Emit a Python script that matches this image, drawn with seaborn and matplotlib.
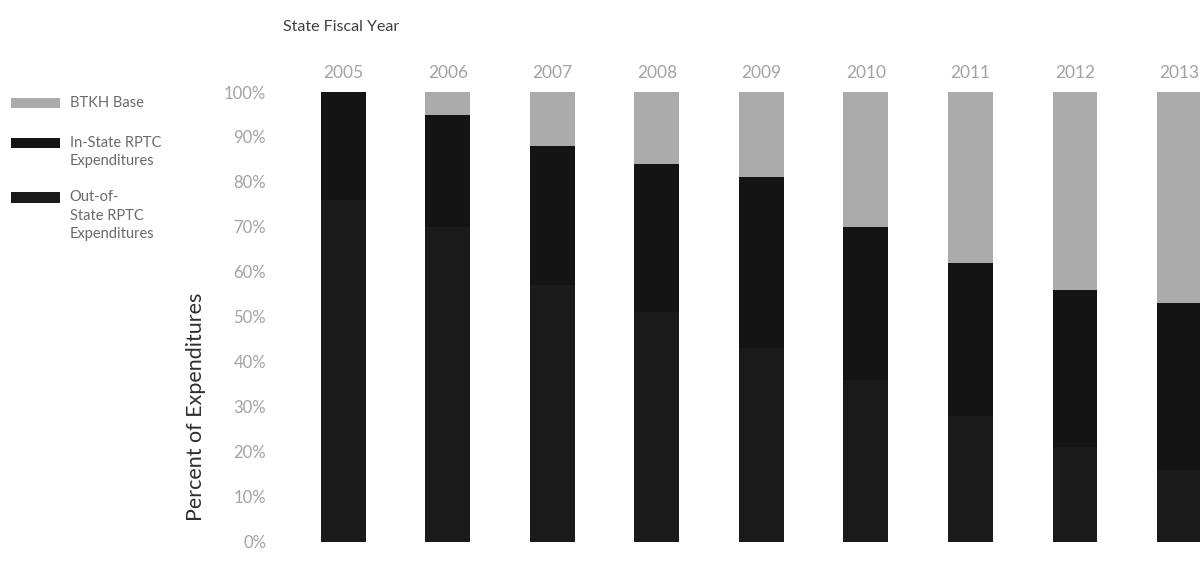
import matplotlib
matplotlib.use("Agg")
import matplotlib.pyplot as plt
import seaborn as sns
import pandas as pd
from matplotlib.patches import Rectangle

# Share of expenditures by state fiscal year (percent)
years = ["2005", "2006", "2007", "2008", "2009", "2010", "2011", "2012", "2013"]
btkh_base = [0, 5, 12, 16, 19, 30, 38, 44, 47]
in_state_rptc = [24, 25, 31, 33, 38, 34, 34, 35, 37]
out_of_state_rptc = [76, 70, 57, 51, 43, 36, 28, 21, 16]
y_ticks = [0, 10, 20, 30, 40, 50, 60, 70, 80, 90, 100]

series_names = ["BTKH Base", "In-State RPTC\nExpenditures", "Out-of-\nState RPTC\nExpenditures"]
colors = ["#ababab", "#141414", "#1a1a1a"]

sns.set_theme(style="white")
plt.rcParams["font.family"] = ["Lato", "DejaVu Sans"]

df = pd.DataFrame({
    "year": years,
    "btkh": btkh_base,
    "in_state": in_state_rptc,
    "out_state": out_of_state_rptc,
})
# cumulative tops for a stacked layout (bottom: out-of-state, then in-state, then BTKH)
df["top_out"] = df["out_state"]
df["top_in"] = df["out_state"] + df["in_state"]
df["top_all"] = df["top_in"] + df["btkh"]

fig = plt.figure(figsize=(12, 5.61), dpi=100)
ax = fig.add_axes([0.2425, 0.034, 0.784, 0.802])

for col, color in [("top_all", colors[0]), ("top_in", colors[1]), ("top_out", colors[2])]:
    sns.barplot(data=df, x="year", y=col, color=color, width=0.43,
                saturation=1, ax=ax, linewidth=0, errorbar=None)

ax.set_xlim(-0.5, 8.5)
ax.set_ylim(0, 100)
ax.set_yticks(y_ticks)
ax.set_yticklabels([f"{t}%" for t in y_ticks])
ax.xaxis.tick_top()
ax.tick_params(axis="both", length=0, colors="#a3a3a3")
ax.tick_params(axis="x", pad=8, labelsize=12.5)
ax.tick_params(axis="y", pad=18, labelsize=12)
ax.set_xlabel("")
ax.set_ylabel("Percent of Expenditures", fontsize=15.5, color="#2e2e2e")
ax.yaxis.set_label_coords(-0.09, 0.3)
for s in ax.spines.values():
    s.set_visible(False)

fig.text(0.236, 0.952, "State Fiscal Year", fontsize=11.5, color="#3e3e3e",
         ha="left", va="center")

# legend on the left
legend_rows = [(0.816, series_names[0], colors[0]),
               (0.745, series_names[1], colors[1]),
               (0.648, series_names[2], colors[2])]
for y, label, color in legend_rows:
    fig.patches.append(Rectangle((0.009, y - 0.009), 0.041, 0.018, transform=fig.transFigure,
                                 facecolor=color, edgecolor="none"))
    fig.text(0.058, y + 0.013, label, fontsize=10.5, color="#6a6a6a", ha="left", va="top",
             linespacing=1.4)

fig.savefig("out.png", dpi=100, facecolor="white")
